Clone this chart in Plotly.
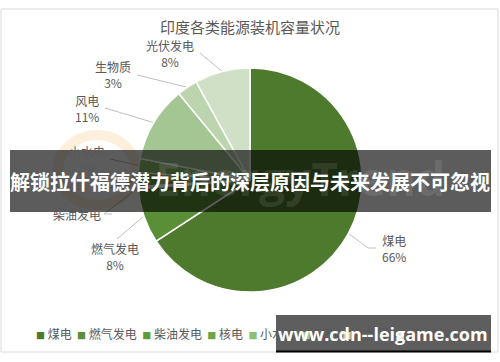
import math
import plotly.graph_objects as go

# ---------------- data ----------------
categories = ["煤电", "燃气发电", "柴油发电", "核电", "小水电", "风电", "生物质", "光伏发电"]
shares = [66, 8, 0.3, 2, 2, 11, 3, 8]
title_text = "印度各类能源装机容量状况"
banner_text = "解锁拉什福德潜力背后的深层原因与未来发展不可忽视"
watermark_text = "www.cdn--leigame.com"

# ---------------- styles ----------------
colors = ["#4E7A2E", "#5A8F37", "#5F9A3B", "#6CA547", "#8CBF6E", "#A4C692", "#BDD5AF", "#D0E0C6"]
W, H = 500, 362
CX, CY, R = 250, 180, 112
FONT = "Noto Sans CJK SC"
GREY = "#595959"

# label layout: text centre (x, y) and leader line end points (pixels)
label_layout = {
    "煤电": ((394, 248), [(368, 248), (376, 248)]),
    "燃气发电": ((115, 256), [(117, 239)]),
    "柴油发电": ((77, 214), [(104, 214), (112, 214)]),
    "核电": ((72, 191), [(100, 191)]),
    "小水电": ((87, 159), [(110, 159)]),
    "风电": ((87, 108), [(105, 108)]),
    "生物质": ((113, 75), [(137, 75)]),
    "光伏发电": ((170, 53), [(200, 53)]),
}
show_pct = {"柴油发电": False}


def px(x):
    return x / W


def py(y):
    return 1 - y / H


fig = go.Figure()
fig.add_trace(go.Pie(
    labels=categories,
    values=shares,
    sort=False,
    direction="clockwise",
    rotation=0,
    textinfo="none",
    hoverinfo="none",
    marker=dict(colors=colors, line=dict(color="white", width=1.5)),
    domain=dict(x=[px(CX - R), px(CX + R)], y=[py(CY + R), py(CY - R)]),
    showlegend=False,
))

shapes = []
annotations = []

# frame
shapes.append(dict(type="rect", xref="paper", yref="paper", x0=px(1), x1=px(498), y0=py(352), y1=py(9),
                   line=dict(color="#d9d9d9", width=1), fillcolor="rgba(0,0,0,0)", layer="below"))
# faint logo ring
shapes.append(dict(type="circle", xref="paper", yref="paper", x0=px(58), x1=px(136), y0=py(205), y1=py(135),
                   line=dict(color="rgba(245,190,110,0.25)", width=10), fillcolor="rgba(0,0,0,0)", layer="below"))

total = sum(shares)
cum = 0.0
for name, v in zip(categories, shares):
    mid = (cum + v / 2) / total * 2 * math.pi
    cum += v
    ex = CX + R * math.sin(mid)
    ey = CY - R * math.cos(mid)
    (tx, ty), pts = label_layout[name]
    path = f"M {px(ex)} {py(ey)}" + "".join(f" L {px(a)} {py(b)}" for a, b in pts)
    shapes.append(dict(type="path", xref="paper", yref="paper", path=path,
                       line=dict(color="#bfbfbf", width=1), layer="below"))
    pct = round(v / total * 100)
    txt = name if not show_pct.get(name, True) else f"{name}<br>{pct}%"
    annotations.append(dict(x=px(tx), y=py(ty), xref="paper", yref="paper", text=txt, showarrow=False,
                            xanchor="center", yanchor="middle", align="center",
                            font=dict(family=FONT, size=12, color=GREY)))

# title
annotations.append(dict(x=px(250), y=py(26), xref="paper", yref="paper", text=title_text, showarrow=False,
                        xanchor="center", yanchor="middle", font=dict(family=FONT, size=15, color=GREY)))

# custom legend
parts = []
for name, c in zip(categories, colors):
    parts.append(f"<span style='color:{c};font-size:9px'>■</span> {name}")
annotations.append(dict(x=px(34), y=py(333), xref="paper", yref="paper", text="  ".join(parts),
                        showarrow=False, xanchor="left", yanchor="middle",
                        font=dict(family=FONT, size=12, color=GREY)))

# faint EnergyTrend watermark
annotations.append(dict(x=px(300), y=py(178), xref="paper", yref="paper", text="<b>EnergyTrend</b>",
                        showarrow=False, xanchor="center", yanchor="middle",
                        font=dict(family="Open Sans", size=46, color="rgba(255,255,255,0.10)")))

# banner
shapes.append(dict(type="rect", xref="paper", yref="paper", x0=px(10), x1=px(491), y0=py(212), y1=py(150),
                   line=dict(width=0), fillcolor="rgba(0,0,0,0.64)", layer="above"))
annotations.append(dict(x=px(250), y=py(181), xref="paper", yref="paper", text=f"<b>{banner_text}</b>",
                        showarrow=False, xanchor="center", yanchor="middle",
                        font=dict(family=FONT, size=20, color="white")))

# watermark box
shapes.append(dict(type="rect", xref="paper", yref="paper", x0=px(276), x1=px(491), y0=py(352), y1=py(315),
                   line=dict(width=0), fillcolor="rgba(0,0,0,0.63)", layer="above"))
shapes.append(dict(type="line", xref="paper", yref="paper", x0=px(276), x1=px(491), y0=py(351.5), y1=py(351.5),
                   line=dict(color="black", width=2), layer="above"))
annotations.append(dict(x=px(383), y=py(334), xref="paper", yref="paper", text=f"<b>{watermark_text}</b>",
                        showarrow=False, xanchor="center", yanchor="middle",
                        font=dict(family="Open Sans", size=18, color="white")))

fig.update_layout(
    width=W, height=H,
    margin=dict(l=0, r=0, t=0, b=0),
    paper_bgcolor="white", plot_bgcolor="white",
    shapes=shapes, annotations=annotations,
    showlegend=False,
)

fig.write_html("out.html", config={"displayModeBar": False},
               post_script="document.body.style.margin='0px';document.body.style.overflow='hidden';")
